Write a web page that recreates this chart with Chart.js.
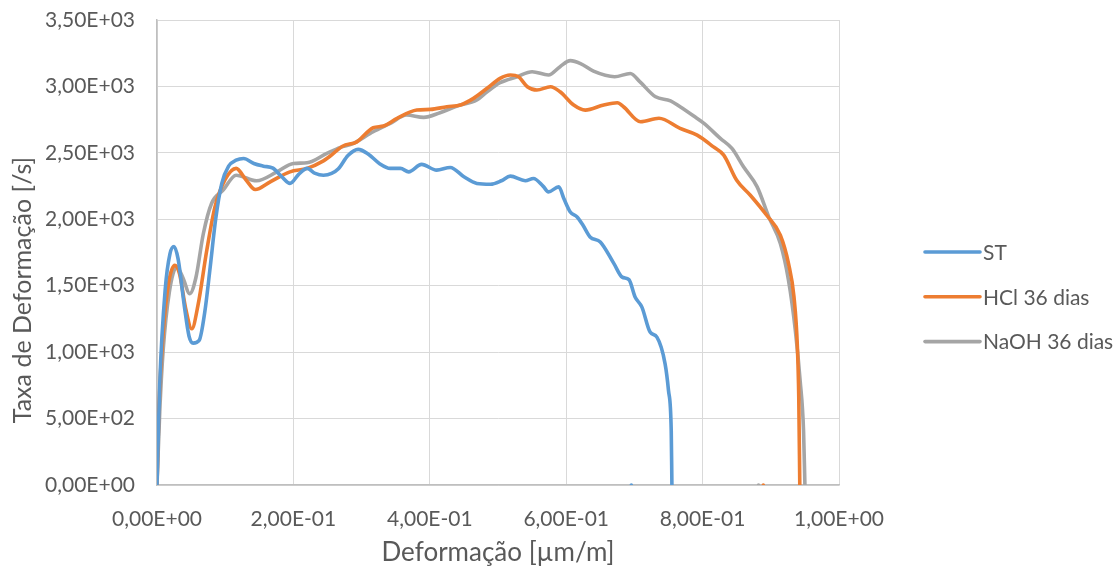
<!DOCTYPE html>
<html>
<head>
<meta charset="utf-8">
<script src="https://cdn.jsdelivr.net/npm/chart.js@4.4.1/dist/chart.umd.min.js"></script>
<style>
  html, body { margin: 0; padding: 0; background: #fff; }
  #wrap { width: 1120px; height: 569px; }
</style>
</head>
<body>
<div id="wrap"><canvas id="chart" width="1120" height="569"></canvas></div>
<script>
// series names
const seriesNames = ["ST", "HCl 36 dias", "NaOH 36 dias"];
const seriesColors = ["#5B9BD5", "#ED7D31", "#A5A5A5"];

// ST
const stX = [0, 0.004, 0.012, 0.019, 0.025, 0.031, 0.040, 0.047, 0.053, 0.062, 0.070, 0.078, 0.086, 0.095, 0.105, 0.116, 0.127, 0.142, 0.156, 0.170, 0.183, 0.195, 0.208, 0.220, 0.232, 0.244, 0.256, 0.266, 0.280, 0.295, 0.310, 0.326, 0.342, 0.357, 0.369, 0.388, 0.410, 0.430, 0.450, 0.469, 0.489, 0.505, 0.518, 0.540, 0.552, 0.566, 0.574, 0.589, 0.597, 0.606, 0.616, 0.624, 0.635, 0.650, 0.670, 0.682, 0.692, 0.701, 0.711, 0.723, 0.733, 0.745, 0.750, 0.754, 0.755];
const stY = [0, 760, 1470, 1740, 1795, 1700, 1350, 1120, 1068, 1090, 1300, 1640, 2000, 2270, 2400, 2445, 2458, 2420, 2400, 2385, 2320, 2270, 2340, 2383, 2345, 2332, 2345, 2380, 2480, 2526, 2490, 2420, 2383, 2383, 2357, 2413, 2370, 2390, 2320, 2270, 2264, 2290, 2325, 2290, 2307, 2250, 2206, 2244, 2150, 2055, 2018, 1960, 1867, 1829, 1666, 1565, 1546, 1415, 1339, 1151, 1113, 912, 711, 409, 0];

// HCl 36 dias
const hclX = [0, 0.003, 0.009, 0.017, 0.026, 0.033, 0.042, 0.051, 0.060, 0.073, 0.085, 0.100, 0.116, 0.130, 0.144, 0.166, 0.195, 0.220, 0.244, 0.255, 0.272, 0.293, 0.317, 0.332, 0.352, 0.381, 0.401, 0.425, 0.445, 0.464, 0.484, 0.503, 0.518, 0.530, 0.543, 0.557, 0.577, 0.591, 0.611, 0.628, 0.655, 0.675, 0.684, 0.709, 0.736, 0.767, 0.792, 0.816, 0.831, 0.850, 0.870, 0.894, 0.914, 0.926, 0.934, 0.939, 0.941, 0.9425];
const hclY = [0, 600, 1140, 1520, 1653, 1590, 1330, 1176, 1350, 1767, 2093, 2300, 2383, 2300, 2224, 2282, 2357, 2383, 2440, 2480, 2550, 2583, 2689, 2702, 2760, 2822, 2827, 2847, 2860, 2910, 2986, 3061, 3086, 3073, 2998, 2973, 2998, 2960, 2860, 2822, 2860, 2877, 2847, 2734, 2760, 2684, 2634, 2545, 2483, 2294, 2181, 2030, 1880, 1666, 1415, 1037, 660, 0];

// NaOH 36 dias
const naohX = [0, 0.004, 0.009, 0.018, 0.029, 0.038, 0.048, 0.057, 0.068, 0.080, 0.097, 0.116, 0.146, 0.176, 0.200, 0.220, 0.249, 0.269, 0.288, 0.317, 0.342, 0.366, 0.391, 0.415, 0.440, 0.469, 0.484, 0.503, 0.528, 0.550, 0.574, 0.591, 0.606, 0.621, 0.640, 0.671, 0.694, 0.709, 0.731, 0.753, 0.767, 0.787, 0.802, 0.826, 0.843, 0.860, 0.880, 0.897, 0.914, 0.926, 0.936, 0.943, 0.948, 0.950];
const naohY = [0, 550, 1013, 1450, 1641, 1560, 1440, 1560, 1893, 2119, 2219, 2332, 2290, 2357, 2420, 2425, 2496, 2541, 2571, 2659, 2722, 2785, 2767, 2802, 2852, 2898, 2960, 3028, 3073, 3111, 3086, 3149, 3194, 3172, 3115, 3073, 3097, 3030, 2922, 2892, 2847, 2777, 2722, 2609, 2533, 2395, 2244, 2018, 1817, 1540, 1163, 786, 409, 0];

// stray points lying on the x axis (one per series)
const strayX = [0.6955, 0.889, 0.882];
const strayY = [0, 0, 0];

// axis ranges
const xMin = 0, xMax = 1, xStep = 0.2;
const yMin = 0, yMax = 3500, yStep = 500;

const xTitle = "Deformação [µm/m]";
const yTitle = "Taxa de Deformação [/s]";

const textColor = "#595959";
const fontFamily = "Lato, 'Liberation Sans', sans-serif";

// 3,50E+03 style labels
function fmtE(v) {
  const s = Number(v).toExponential(2);
  const parts = s.split("e");
  const exp = parseInt(parts[1], 10);
  const sign = exp < 0 ? "-" : "+";
  return parts[0].replace(".", ",") + "E" + sign + String(Math.abs(exp)).padStart(2, "0");
}

function toPoints(xs, ys) {
  return xs.map((x, i) => ({ x: x, y: ys[i] }));
}

const allX = [stX, hclX, naohX];
const allY = [stY, hclY, naohY];

const datasets = seriesNames.map((name, i) => ({
  label: name,
  data: toPoints(allX[i], allY[i]),
  borderColor: seriesColors[i],
  backgroundColor: seriesColors[i],
  borderWidth: 3.6,
  pointRadius: 0,
  showLine: true,
  cubicInterpolationMode: "monotone",
  borderCapStyle: "round",
  borderJoinStyle: "round",
}));

seriesNames.forEach((name, i) => {
  datasets.push({
    label: name + " (0)",
    data: [{ x: strayX[i], y: strayY[i] }],
    backgroundColor: seriesColors[i],
    borderWidth: 0,
    pointRadius: 1.8,
    showLine: false,
    isStray: true,
  });
});

// legend and y title drawn by hand (Excel puts the title off-centre)
const sideLegend = {
  id: "sideLegend",
  afterDraw(chart) {
    const ctx = chart.ctx;
    const x0 = 925, lineLen = 55, yTop = 252, gap = 44.8;
    ctx.save();
    ctx.font = "21px " + fontFamily;
    ctx.textBaseline = "middle";
    ctx.textAlign = "left";
    chart.data.datasets.filter((ds) => !ds.isStray).forEach((ds, i) => {
      const y = yTop + i * gap;
      ctx.strokeStyle = ds.borderColor;
      ctx.lineWidth = 3.6;
      ctx.lineCap = "round";
      ctx.beginPath();
      ctx.moveTo(x0, y);
      ctx.lineTo(x0 + lineLen, y);
      ctx.stroke();
      ctx.fillStyle = textColor;
      ctx.fillText(ds.label, x0 + lineLen + 3, y + 1);
    });

    ctx.translate(23, 290);
    ctx.rotate(-Math.PI / 2);
    ctx.font = "25px " + fontFamily;
    ctx.textAlign = "center";
    ctx.fillText(yTitle, 0, 0);
    ctx.restore();
  },
};

const ctx = document.getElementById("chart");
new Chart(ctx, {
  type: "scatter",
  data: { datasets: datasets },
  plugins: [sideLegend],
  options: {
    responsive: false,
    animation: false,
    devicePixelRatio: 1,
    layout: { padding: { left: 0, right: 281, top: 20, bottom: 0 } },
    plugins: {
      legend: { display: false },
      tooltip: { enabled: false },
    },
    scales: {
      x: {
        type: "linear",
        min: xMin,
        max: xMax,
        afterFit(scale) { scale.height = 84; },
        ticks: {
          stepSize: xStep,
          color: textColor,
          font: { family: fontFamily, size: 21 },
          padding: 22,
          maxRotation: 0,
          callback: (v) => fmtE(v),
        },
        grid: { color: "#D9D9D9", lineWidth: 1, drawTicks: false },
        border: { color: "#BFBFBF", width: 1.5 },
        title: {
          display: true,
          text: xTitle,
          color: textColor,
          font: { family: fontFamily, size: 26 },
          padding: { top: 0, bottom: 1 },
        },
      },
      y: {
        type: "linear",
        min: yMin,
        max: yMax,
        afterFit(scale) {
          scale.width = 157;
          // keep label overflow from pushing the plot down
          scale.paddingTop = 0;
          scale.paddingBottom = 0;
        },
        ticks: {
          stepSize: yStep,
          color: textColor,
          font: { family: fontFamily, size: 21 },
          padding: 22,
          callback: (v) => fmtE(v),
        },
        grid: { color: "#D9D9D9", lineWidth: 1, drawTicks: false },
        border: { color: "#BFBFBF", width: 1.5 },
      },
    },
  },
});
</script>
</body>
</html>
